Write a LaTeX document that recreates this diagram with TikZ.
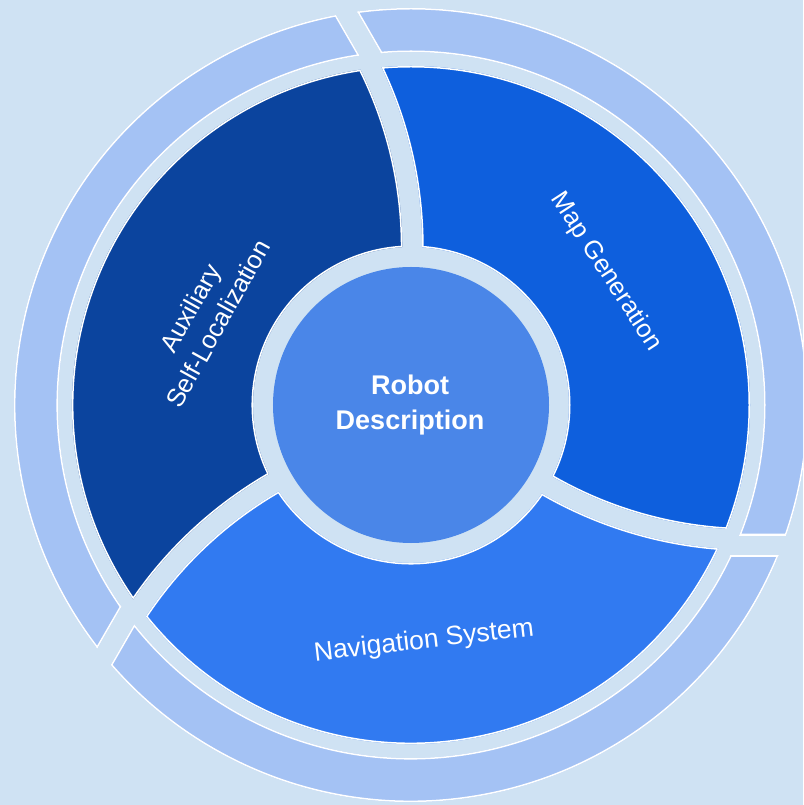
\documentclass[tikz,border=0pt]{standalone}
\usepackage{fontspec}
\setmainfont{Liberation Sans}
\usetikzlibrary{calc}

\definecolor{bgc}{HTML}{CFE2F3}
\definecolor{ringc}{HTML}{A4C2F4}
\definecolor{auxc}{HTML}{0B449E}
\definecolor{mapc}{HTML}{0E5FDD}
\definecolor{navc}{HTML}{317AF1}
\definecolor{cenc}{HTML}{4A86E8}

\tikzset{
  edge/.style={draw=white, line width=3pt},
  lbl/.style={text=white, inner sep=0pt, font=\fontsize{25.5}{32}\selectfont},
  lblb/.style={text=white, inner sep=0pt, font=\fontsize{27}{35}\selectfont\bfseries},
}

% clip to the outside of a circle (#1 = centre, #2 = radius)
\newcommand\cliphole[2]{%
  \clip (-2000,-2000) -- (2000,-2000) -- (2000,2000) -- (-2000,2000) -- cycle
        ($(#1)+(#2,0)$) arc[start angle=0, end angle=-360, radius=#2];}

% one inner sector, bounded by two curved gaps (#1 = rotation, #2 = colour)
\newcommand\sector[2]{%
  \begin{scope}[rotate=#1]
    \clip (0,0) circle (339);
    \cliphole{0,0}{158}
    \cliphole{159:438.4}{420.5}
    \clip (39:438.4) circle (400.5);
    \fill[#2] (-600,-600) rectangle (600,600);
    \draw[edge] (0,0) circle (339) (0,0) circle (158)
                (159:438.4) circle (420.5) (39:438.4) circle (400.5);
  \end{scope}}

% one piece of the outer ring, cut along tangents of the core (#1 = rotation)
\newcommand\ringpiece[1]{%
  \begin{scope}[rotate=#1]
    \clip (0,0) circle (397);
    \cliphole{0,0}{353}
    \clip (-600,-130) rectangle (600,600);
    \clip[rotate=30] (150,-600) rectangle (600,600);
    \fill[ringc] (-600,-600) rectangle (600,600);
    \draw[edge] (0,0) circle (397) (0,0) circle (353) (-600,-130) -- (600,-130);
    \draw[edge, rotate=30] (150,-600) -- (150,600);
  \end{scope}}

\begin{document}
\begin{tikzpicture}[x=1pt, y=1pt]
  \useasboundingbox (-411,-400) rectangle (392,405);
  \clip (-411,-400) rectangle (392,405);
  \fill[bgc] (-411,-400) rectangle (392,405);

  % outer ring
  \ringpiece{0}
  \ringpiece{120}
  \ringpiece{240}

  % three sectors
  \sector{0}{mapc}
  \sector{120}{auxc}
  \sector{240}{navc}

  % core
  \node[circle, fill=cenc, minimum size=276pt, inner sep=0pt] (core) at (0,0) {};
  \node[lblb, align=center] (robot) at (-1,0) {Robot\\Description};

  % sector labels
  \node[lbl, rotate=-57] (map) at (195,133) {Map Generation};
  \node[lbl, rotate=61, align=center] (aux) at (-207,89) {Auxiliary\\Self-Localization};
  \node[lbl, rotate=6.6, font=\fontsize{26.5}{32}\selectfont] (nav) at (13,-236.5) {Navigation System};
\end{tikzpicture}
\end{document}
